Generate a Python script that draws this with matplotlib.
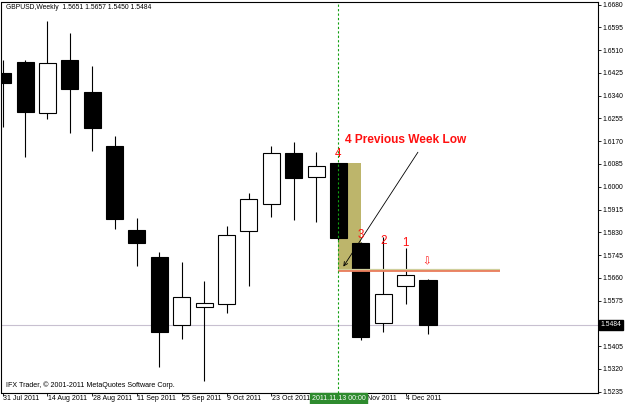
import matplotlib
matplotlib.use("Agg")
import matplotlib.pyplot as plt
from matplotlib.patches import Rectangle
import matplotlib.transforms as mtransforms

plt.rcParams['font.family'] = ['Liberation Sans', 'DejaVu Sans']

# ---- data (weekly GBPUSD candles) ----
opens  = [1.6425, 1.6467, 1.6274, 1.6472, 1.6353, 1.6153, 1.5839, 1.5737, 1.5484, 1.5552,
          1.5562, 1.5834, 1.5935, 1.6125, 1.6036, 1.6090, 1.5791, 1.5490, 1.5630, 1.5651]
highs  = [1.6474, 1.6474, 1.6620, 1.6573, 1.6451, 1.6190, 1.5885, 1.5758, 1.5718, 1.5648,
          1.5855, 1.5978, 1.6153, 1.6168, 1.6129, 1.6090, 1.5795, 1.5814, 1.5770, 1.5657]
lows   = [1.6223, 1.6111, 1.6253, 1.6200, 1.6134, 1.5844, 1.5705, 1.5328, 1.5432, 1.5275,
          1.5528, 1.5631, 1.5888, 1.5876, 1.5870, 1.5800, 1.5428, 1.5459, 1.5562, 1.5450]
closes = [1.6388, 1.6279, 1.6461, 1.6366, 1.6221, 1.5879, 1.5789, 1.5457, 1.5589, 1.5566,
          1.5820, 1.5953, 1.6126, 1.6032, 1.6078, 1.5808, 1.5438, 1.5600, 1.5671, 1.5484]

date_ticks = [0, 2, 4, 6, 8, 10, 12, 14, 16, 18]
date_labels = ["31 Jul 2011", "14 Aug 2011", "28 Aug 2011", "11 Sep 2011", "25 Sep 2011",
               "9 Oct 2011", "23 Oct 2011", "", "Nov 2011", "4 Dec 2011"]
price_ticks = [1.6680, 1.6595, 1.6510, 1.6425, 1.6340, 1.6255, 1.6170, 1.6085, 1.6000,
               1.5915, 1.5830, 1.5745, 1.5660, 1.5575, 1.5490, 1.5405, 1.5320, 1.5235]
price_labels = ["1.6680", "1.6595", "1.6510", "1.6425", "1.6340", "1.6255", "1.6170", "1.6085",
                "1.6000", "1.5915", "1.5830", "1.5745", "1.5660", "1.5575", "", "1.5405",
                "1.5320", "1.5235"]
last_price = 1.5484
marker_week = 15
marker_label = "2011.11.13 00:00"
prev_week_low = 1.5687
zone_top = 1.6090
number_labels = [("4", 15, 1.6123), ("3", 16, 1.5821), ("2", 17, 1.5799), ("1", 18, 1.5791)]

W, H = 625, 404
fig = plt.figure(figsize=(W / 100, H / 100), dpi=100)
left_px, right_px, top_px, bot_px = 1.5, 597.7, 1.7, 392.7
ax = fig.add_axes([left_px / W, (H - bot_px) / H, (right_px - left_px) / W, (bot_px - top_px) / H])
ax.set_xlim(-0.05, 26.58)
ax.set_ylim(1.5231, 1.6691)

# candles
bw = 0.76
for i, (o, h, l, c) in enumerate(zip(opens, highs, lows, closes)):
    ax.plot([i, i], [l, h], color='black', lw=0.8, zorder=3, solid_capstyle='butt')
    fc = 'black' if c < o else 'white'
    ax.add_patch(Rectangle((i - bw / 2, min(o, c)), bw, abs(c - o), facecolor=fc,
                           edgecolor='black', lw=0.8, zorder=4))

# shaded previous-week zone
ax.add_patch(Rectangle((marker_week, prev_week_low), 1.0, zone_top - prev_week_low,
                       facecolor='#bdb56b', edgecolor='none', zorder=1))

# previous week low line (double coloured)
ax.plot([marker_week, 22.2], [prev_week_low + 0.0004, prev_week_low + 0.0004],
        color='#cfcf9c', lw=1.6, zorder=5, solid_capstyle='butt')
ax.plot([marker_week, 22.2], [prev_week_low - 0.0002, prev_week_low - 0.0002],
        color='#ea7c5c', lw=1.3, zorder=5, solid_capstyle='butt')

# last price line
ax.axhline(last_price, color='#c8c0d0', lw=0.8, zorder=0.5)

# green dotted vertical line
ax.axvline(marker_week, color='#10a010', lw=0.8, ls=(0, (2, 2)), zorder=6)

# annotation
ax.annotate("", xy=(15.22, 1.5702), xytext=(18.55, 1.6129),
            arrowprops=dict(arrowstyle='->', color='black', lw=0.6,
                            mutation_scale=7, shrinkA=0, shrinkB=0), zorder=7)
ax.text(15.29, 1.6173, "4 Previous Week Low", color='#ff1010', fontsize=8.6,
        fontweight='bold', ha='left', va='center', zorder=8)
for s, xi, yp in number_labels:
    ax.text(xi, yp, s, color='#ff1010', fontsize=8.4, ha='center', va='center', zorder=8)
ax.text(18.94, 1.5721, "\u21e9", color='#ff1010', fontsize=7.5, ha='center', va='center',
        family='DejaVu Sans', zorder=8)

# header and footer text
ax.text(4 / 596, 1 - 5.5 / 391, "GBPUSD,Weekly  1.5651 1.5657 1.5450 1.5484",
        transform=ax.transAxes, fontsize=4.9, ha='left', va='center', color='black')
ax.text(4 / 596, (392.7 - 385) / 391, "IFX Trader, \u00a9 2001-2011 MetaQuotes Software Corp.",
        transform=ax.transAxes, fontsize=5.1, ha='left', va='center', color='black')

# axes styling
for sp in ax.spines.values():
    sp.set_color('black')
    sp.set_linewidth(0.8)
ax.yaxis.tick_right()
ax.set_yticks(price_ticks)
ax.set_yticklabels(price_labels)
ax.tick_params(axis='y', length=2.2, width=0.6, pad=1, labelsize=4.9, colors='black')
ax.set_xticks(date_ticks)
ax.set_xticklabels([])
ax.tick_params(axis='x', length=2.2, width=0.6, pad=1, colors='black')

trans_b = mtransforms.blended_transform_factory(ax.transData, ax.transAxes)
for t, lab in zip(date_ticks, date_labels):
    if not lab:
        continue
    dx = 0.28 if lab == "Nov 2011" else 0.02
    ax.text(t + dx, -2.5 / 391, lab, transform=trans_b, fontsize=5.0, color='black',
            ha='left', va='top', clip_on=False)

# last price tag on the right
trans_r = mtransforms.blended_transform_factory(ax.transAxes, ax.transData)
ax.text(1.0 + 3 / 596, last_price, f"{last_price:.4f}", transform=trans_r, fontsize=4.9,
        color='white', ha='left', va='center', clip_on=False, zorder=10,
        bbox=dict(boxstyle='square,pad=0.2', facecolor='black', edgecolor='black'))

# highlighted date label for the marked week
ax.text(marker_week, -2.2 / 391, marker_label, transform=trans_b, fontsize=5.0,
        color='white', ha='center', va='top', clip_on=False, zorder=10,
        bbox=dict(boxstyle='square,pad=0.25', facecolor='#2e8b2e', edgecolor='#2e8b2e'))

fig.savefig("out.png", dpi=100, facecolor='white')
